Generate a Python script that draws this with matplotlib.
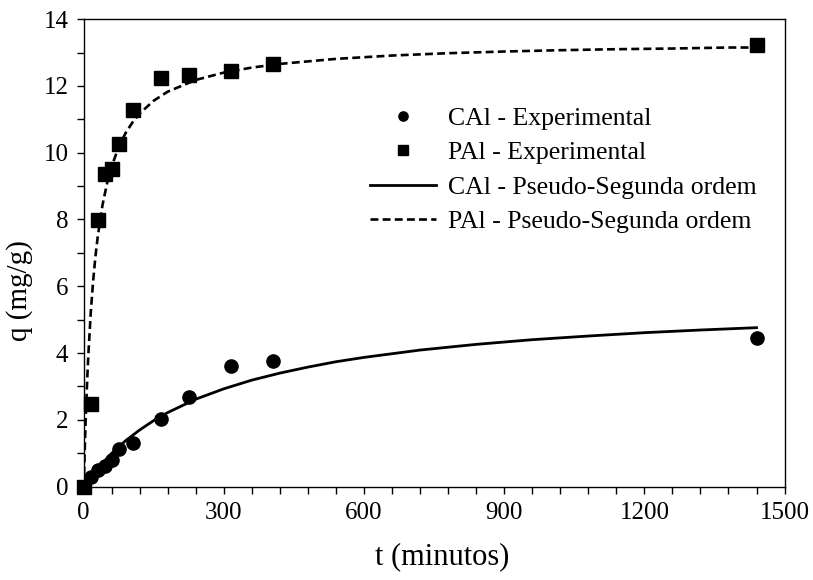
import matplotlib
matplotlib.use("Agg")
import matplotlib.pyplot as plt
from matplotlib.ticker import MultipleLocator

plt.rcParams['font.family'] = ['Liberation Serif', 'DejaVu Serif']

# experimental points (time in minutes, q in mg/g)
t_exp = [0, 15, 30, 45, 60, 75, 105, 165, 225, 315, 405, 1440]
q_cal = [0, 0.30, 0.50, 0.62, 0.80, 1.14, 1.31, 2.02, 2.67, 3.60, 3.75, 4.46]
q_pal = [0, 2.48, 7.98, 9.35, 9.50, 10.25, 11.27, 12.24, 12.34, 12.44, 12.65, 13.22]

# pseudo-second order curves
t_cal_fit = [0, 15, 30, 60, 90, 120, 150, 180, 240, 300, 360, 420, 480, 540,
             600, 720, 840, 960, 1080, 1200, 1320, 1440]
q_cal_fit = [0, 0.29, 0.55, 1.00, 1.38, 1.70, 1.98, 2.22, 2.62, 2.93, 3.19, 3.40,
             3.58, 3.74, 3.87, 4.09, 4.26, 4.40, 4.51, 4.61, 4.69, 4.76]

t_pal_fit = [0, 2, 4, 6, 8, 10, 15, 20, 25, 30, 40, 50, 60, 75, 90, 105, 120, 150,
             180, 240, 300, 360, 420, 540, 660, 780, 900, 1020, 1140, 1260, 1380, 1440]
q_pal_fit = [0, 1.05, 1.94, 2.71, 3.39, 3.98, 5.21, 6.14, 6.89, 7.49, 8.42, 9.09,
             9.60, 10.18, 10.60, 10.92, 11.18, 11.56, 11.83, 12.18, 12.40, 12.55,
             12.66, 12.81, 12.91, 12.98, 13.03, 13.07, 13.10, 13.12, 13.15, 13.15]

fig = plt.figure(figsize=(8.13, 5.8), dpi=100)
ax = fig.add_axes([0.103, 0.161, 0.862, 0.806])

ax.plot(t_exp, q_cal, 'o', color='black', markersize=9.5, clip_on=False, zorder=4,
        label='CAl - Experimental')
ax.plot(t_exp, q_pal, 's', color='black', markersize=9.8, clip_on=False, zorder=4,
        label='PAl - Experimental')
ax.plot(t_cal_fit, q_cal_fit, '-', color='black', linewidth=2.0, zorder=3,
        label='CAl - Pseudo-Segunda ordem')
ax.plot(t_pal_fit, q_pal_fit, color='black', linewidth=1.9, linestyle=(0, (3, 1.6)),
        zorder=3, label='PAl - Pseudo-Segunda ordem')

ax.set_xlim(0, 1500)
ax.set_ylim(0, 14)
ax.xaxis.set_major_locator(MultipleLocator(300))
ax.xaxis.set_minor_locator(MultipleLocator(60))
ax.yaxis.set_major_locator(MultipleLocator(2))
ax.yaxis.set_minor_locator(MultipleLocator(1))
ax.tick_params(which='both', direction='out', length=5, width=1, color='black')
ax.tick_params(axis='both', labelsize=18)
ax.tick_params(axis='x', pad=6)
ax.tick_params(axis='y', pad=6)
for s in ax.spines.values():
    s.set_linewidth(1)
    s.set_color('black')

ax.set_xlabel('t (minutos)', fontsize=22)
ax.set_ylabel('q (mg/g)', fontsize=21)
ax.xaxis.set_label_coords(0.511, -0.118)
ax.yaxis.set_label_coords(-0.073, 0.42)

ax.legend(loc='upper left', bbox_to_anchor=(0.409, 0.812), frameon=False,
          fontsize=18.5, handlelength=2.55, handletextpad=0.47, labelspacing=0.44,
          borderpad=0, borderaxespad=0, markerscale=0.7)

fig.savefig('out.png', dpi=100)
